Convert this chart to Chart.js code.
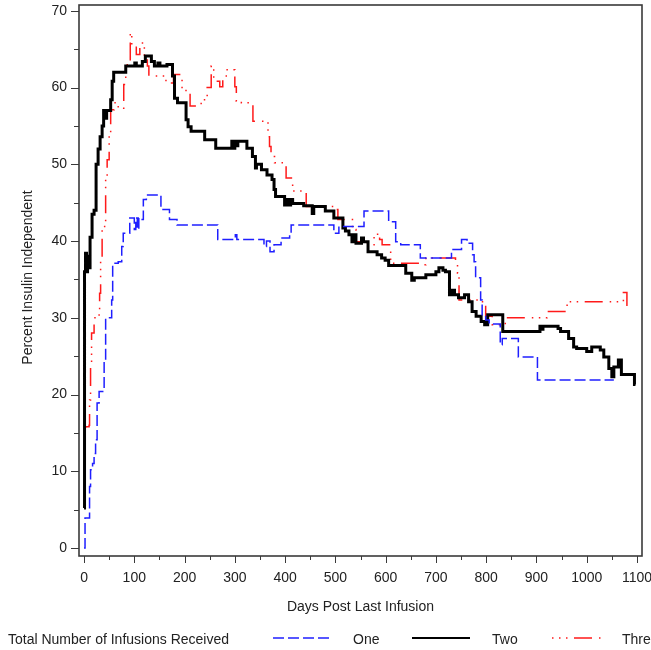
<!DOCTYPE html>
<html>
<head>
<meta charset="utf-8">
<script src="https://cdn.jsdelivr.net/npm/chart.js@4.4.1/dist/chart.umd.min.js"></script>
<style>
  body{margin:0;background:#fff;}
  canvas{display:block;}
</style>
</head>
<body>
<canvas id="chart" width="651" height="650"></canvas>
<script>
/* DATA (days post last infusion / percent insulin independent) */
const daysOne = [0, 2, 11, 13, 17, 20, 23, 26, 30, 40, 43, 55, 57, 68, 75, 78, 91, 100, 103, 106, 109, 114, 118, 124, 153, 170, 185, 266, 301, 304, 358, 363, 370, 378, 392, 409, 412, 497, 507, 557, 606, 620, 630, 669, 731, 751, 762, 773, 776, 779, 789, 792, 799, 806, 828, 832, 864, 902, 1054];
const pctOne = [0, 3.9, 8.0, 10.2, 11.0, 12.3, 14.1, 18.9, 20.4, 24.5, 30.0, 32.3, 37.1, 37.3, 39.3, 41.0, 43.0, 41.5, 43.0, 41.5, 43.0, 42.8, 45.4, 46.0, 44.1, 42.8, 42.1, 40.2, 40.8, 40.2, 39.3, 40.0, 38.6, 39.5, 40.4, 41.0, 42.1, 41.0, 41.9, 43.9, 42.5, 39.9, 39.5, 37.8, 38.9, 40.2, 39.7, 38.2, 37.3, 35.2, 32.3, 30.2, 29.7, 29.2, 26.5, 27.3, 24.9, 21.9, 21.9];

const daysTwo = [0, 1, 3, 5, 7, 9, 12, 16, 20, 24, 28, 32, 36, 39, 42, 45, 53, 56, 59, 83, 101, 104, 116, 122, 134, 140, 147, 151, 165, 176, 180, 186, 203, 207, 213, 240, 262, 294, 297, 300, 303, 306, 324, 335, 341, 343, 353, 364, 374, 378, 381, 399, 404, 407, 411, 415, 437, 454, 457, 480, 497, 515, 520, 527, 533, 537, 541, 552, 556, 565, 583, 592, 599, 606, 640, 652, 657, 680, 700, 706, 714, 719, 727, 732, 737, 745, 757, 765, 772, 780, 790, 797, 803, 833, 907, 910, 913, 943, 948, 964, 974, 980, 1000, 1010, 1027, 1034, 1044, 1050, 1054, 1063, 1069, 1095, 1097];
const pctTwo = [5.2, 36, 38.4, 36, 38, 36.5, 40.5, 43.5, 44, 50, 52, 53.6, 55, 57, 56, 57, 58.4, 60.8, 62.0, 62.8, 63.2, 62.8, 63.4, 64.1, 63.4, 62.8, 63.2, 62.8, 63.0, 61.5, 58.6, 58.0, 55.8, 54.9, 54.3, 53.2, 52.1, 53.0, 52.1, 53.0, 52.4, 53.0, 52.1, 51.0, 49.5, 50.0, 49.3, 48.6, 48.0, 46.7, 45.8, 44.7, 45.4, 44.7, 45.4, 44.9, 44.6, 43.6, 44.5, 43.9, 43.0, 41.7, 41.3, 40.8, 39.9, 40.8, 39.7, 40.4, 39.9, 38.6, 38.2, 37.8, 37.5, 36.8, 35.8, 34.9, 35.2, 35.6, 36.0, 36.5, 36.2, 36.0, 33.0, 33.6, 33.0, 32.6, 33.0, 32.1, 30.8, 30.2, 29.5, 29.1, 30.4, 28.2, 28.9, 28.5, 28.9, 28.6, 28.2, 27.3, 26.2, 26.0, 25.6, 26.2, 25.8, 24.9, 23.4, 22.3, 23.6, 24.5, 22.6, 21.3, 21.3];

const daysThree = [0, 1, 3, 10, 11, 13, 15, 20, 30, 31, 33, 36, 43, 46, 50, 53, 60, 68, 79, 83, 86, 92, 95, 104, 111, 120, 126, 129, 163, 178, 195, 211, 233, 245, 253, 258, 270, 276, 283, 300, 303, 313, 336, 366, 369, 372, 379, 402, 415, 442, 501, 505, 534, 541, 564, 577, 584, 588, 593, 610, 677, 680, 739, 743, 746, 789, 799, 812, 838, 921, 961, 1073, 1080];
const pctThree = [9.7, 15.4, 15.8, 16.0, 19.3, 23.6, 28.0, 30.0, 30.8, 33.2, 37.5, 41.9, 48.0, 50.6, 54.1, 57.1, 58.0, 57.3, 60.4, 62.8, 63.4, 67.1, 65.4, 64.3, 65.8, 64.1, 62.8, 61.5, 60.6, 61.7, 59.6, 57.6, 58.4, 60.0, 62.8, 60.8, 60.1, 61.5, 62.3, 60.1, 58.2, 58.0, 55.6, 53.6, 52.3, 51.0, 50.2, 48.2, 46.5, 44.5, 44.1, 42.8, 41.5, 39.9, 39.5, 40.6, 41.0, 40.2, 39.5, 37.1, 36.9, 37.8, 37.3, 35.8, 32.3, 32.1, 30.2, 29.1, 30.0, 30.8, 32.1, 33.3, 30.8];

const seriesNames = ["One", "Two", "Three"];
const xTicks = [0, 50, 100, 150, 200, 250, 300, 350, 400, 450, 500, 550, 600, 650, 700, 750, 800, 850, 900, 950, 1000, 1050, 1100];
const yTicks = [0, 5, 10, 15, 20, 25, 30, 35, 40, 45, 50, 55, 60, 65, 70];

const FONT = "'Liberation Sans', Arial, sans-serif";
const TEXT = "#222";

function pts(xs, ys){
  return xs.map((d, i) => ({x: d, y: ys[i]}));
}

/* FRAME, TICK MARKS, TITLES, LEGEND */
const decor = {
  id: "decor",
  afterDatasetsDraw(chart){
    const {ctx, chartArea: a, scales: {x, y}} = chart;
    ctx.save();
    ctx.strokeStyle = "#3a3a3a";
    ctx.lineWidth = 1;
    y.ticks.forEach(t => {
      const py = Math.round(y.getPixelForValue(t.value)) + 0.5;
      const len = t.value % 10 === 0 ? 8 : 5;
      ctx.beginPath(); ctx.moveTo(a.left - len, py); ctx.lineTo(a.left, py); ctx.stroke();
    });
    x.ticks.forEach(t => {
      const px = Math.round(x.getPixelForValue(t.value)) + 0.5;
      const len = t.value % 100 === 0 ? 7 : 4;
      ctx.beginPath(); ctx.moveTo(px, a.bottom); ctx.lineTo(px, a.bottom + len); ctx.stroke();
    });
    ctx.lineWidth = 1.6;
    ctx.strokeRect(a.left, a.top, a.right - a.left, a.bottom - a.top);
    ctx.restore();
  },
  afterDraw(chart){
    const {ctx, chartArea: a} = chart;
    ctx.save();
    ctx.fillStyle = TEXT;
    ctx.font = "14px " + FONT;
    ctx.textBaseline = "middle";

    // axis titles
    ctx.textAlign = "center";
    ctx.fillText("Days Post Last Infusion", (a.left + a.right) / 2, 607);
    ctx.save();
    ctx.translate(28, (a.top + a.bottom) / 2 - 3);
    ctx.rotate(-Math.PI / 2);
    ctx.fillText("Percent Insulin Independent", 0, 0);
    ctx.restore();

    // legend
    const ly = 640;
    ctx.textAlign = "left";
    ctx.fillText("Total Number of Infusions Received", 8, ly);
    const sample = [[273, 330, 353, 0], [412, 470, 492, 0], [552, 606, 622, 25]];
    chart.data.datasets.forEach((ds, i) => {
      const [x0, x1, tx, off] = sample[i];
      ctx.save();
      ctx.strokeStyle = ds.borderColor;
      ctx.lineWidth = Math.min(ds.borderWidth, 2);
      ctx.setLineDash(ds.borderDash || []);
      ctx.lineDashOffset = off;
      ctx.beginPath(); ctx.moveTo(x0, ly - 2); ctx.lineTo(x1, ly - 2); ctx.stroke();
      ctx.restore();
      ctx.fillText(ds.label, tx, ly);
    });
    ctx.restore();
  }
};

/* CHART */
new Chart(document.getElementById("chart"), {
  type: "line",
  data: {
    datasets: [
      {label: seriesNames[0], data: pts(daysOne, pctOne), borderColor: "#1f1fff", borderWidth: 1.5, borderDash: [11, 4]},
      {label: seriesNames[1], data: pts(daysTwo, pctTwo), borderColor: "#000000", borderWidth: 3},
      {label: seriesNames[2], data: pts(daysThree, pctThree), borderColor: "#ff1a1a", borderWidth: 1.5, borderDash: [18, 7, 1.5, 5.5, 1.5, 5.5, 1.5, 6.5]}
    ].map(d => Object.assign(d, {stepped: "before", pointRadius: 0, fill: false, tension: 0}))
  },
  options: {
    responsive: false,
    animation: false,
    devicePixelRatio: 1,
    layout: {padding: {left: 0, right: 9, top: 5, bottom: 0}},
    plugins: {legend: {display: false}, tooltip: {enabled: false}},
    scales: {
      x: {
        type: "linear", min: -10, max: 1110,
        afterBuildTicks: s => { s.ticks = xTicks.map(v => ({value: v})); },
        afterFit: s => { s.height = 94; s.paddingLeft = 0; s.paddingRight = 0; },
        grid: {display: false, drawTicks: true, tickLength: 8},
        border: {display: false},
        ticks: {padding: 6, color: TEXT, font: {family: FONT, size: 14}, maxRotation: 0, autoSkip: false,
          callback: v => v % 100 === 0 ? v : ""}
      },
      y: {
        type: "linear", min: -1.04, max: 70.75,
        afterBuildTicks: s => { s.ticks = yTicks.map(v => ({value: v})); },
        afterFit: s => { s.width = 79; s.paddingTop = 0; s.paddingBottom = 0; },
        grid: {display: false, drawTicks: true, tickLength: 8},
        border: {display: false},
        ticks: {padding: 4, color: TEXT, font: {family: FONT, size: 14}, autoSkip: false,
          callback: v => v % 10 === 0 ? v : ""}
      }
    }
  },
  plugins: [decor]
});
</script>
</body>
</html>
